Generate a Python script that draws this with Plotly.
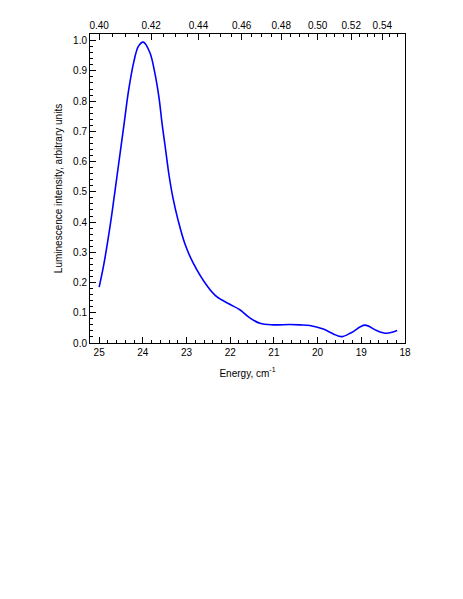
import plotly.graph_objects as go

# luminescence spectrum, energy in 10^3 cm^-1
energy = [25.00, 24.90, 24.80, 24.71, 24.62, 24.52, 24.43, 24.33, 24.21, 24.10,
          23.99, 23.84, 23.73, 23.63, 23.56, 23.48, 23.40, 23.31, 23.19, 23.04,
          22.85, 22.51, 22.31, 22.01, 21.78, 21.55, 21.32, 21.02, 20.64, 20.41,
          20.18, 19.87, 19.64, 19.45, 19.22, 18.92, 18.65, 18.42, 18.18]
intensity = [0.185, 0.255, 0.340, 0.426, 0.522, 0.629, 0.725, 0.832, 0.928, 0.982,
             0.995, 0.961, 0.896, 0.811, 0.725, 0.640, 0.554, 0.479, 0.404, 0.329,
             0.265, 0.185, 0.153, 0.128, 0.110, 0.083, 0.065, 0.060, 0.061, 0.060,
             0.058, 0.046, 0.030, 0.021, 0.035, 0.059, 0.041, 0.032, 0.041]

# top axis: wavelength, um (= 10 / energy)
wl_major = [0.40, 0.42, 0.44, 0.46, 0.48, 0.50, 0.52, 0.54]
wl_minor = [round(0.400 + 0.005 * i, 3) for i in range(32)]

FONT = "Liberation Sans, Arial, sans-serif"
X_RANGE = [25.21, 18.0]

fig = go.Figure()
fig.add_trace(go.Scatter(
    x=energy, y=intensity, mode="lines",
    line=dict(color="#0000ff", width=1.6, shape="spline", smoothing=1.0),
    showlegend=False, hoverinfo="skip",
))
# invisible trace so the top axis is drawn
fig.add_trace(go.Scatter(x=[X_RANGE[0]], y=[None], xaxis="x2", showlegend=False,
                         hoverinfo="skip"))

axis_common = dict(
    showline=True, linecolor="black", linewidth=1, ticks="inside",
    ticklen=6, tickwidth=1, tickcolor="black", showgrid=False, zeroline=False,
    tickfont=dict(family=FONT, size=10, color="black"),
)

# the page body adds 8 px, so margins are 8 px smaller on the left/top
fig.update_layout(
    width=463, height=599,
    margin=dict(l=82, r=66, t=16, b=264),
    paper_bgcolor="white", plot_bgcolor="white",
    font=dict(family=FONT, size=10, color="black"),
    xaxis=dict(
        **axis_common, range=X_RANGE, dtick=1, tick0=18,
        minor=dict(dtick=0.2, tick0=18, ticks="inside", ticklen=3,
                   tickcolor="black", showgrid=False),
        title=dict(text="Energy, cm<sup>-1</sup>", standoff=12,
                   font=dict(family=FONT, size=10)),
    ),
    xaxis2=dict(
        **axis_common, overlaying="x", side="top", range=X_RANGE,
        tickmode="array", tickvals=[10 / w for w in wl_major],
        ticktext=[f"{w:.2f}" for w in wl_major],
        minor=dict(tickmode="array", tickvals=[10 / w for w in wl_minor],
                   ticks="inside", ticklen=3, tickcolor="black", showgrid=False),
    ),
    yaxis=dict(
        **axis_common, range=[0, 1.022], dtick=0.1, tick0=0, tickformat=".1f",
        mirror=True,
        minor=dict(dtick=0.02, tick0=0, ticks="inside", ticklen=3,
                   tickcolor="black", showgrid=False),
        title=dict(text="Luminescence intensity, arbitrary units", standoff=8,
                   font=dict(family=FONT, size=10)),
    ),
)

fig.write_html("out.html")
